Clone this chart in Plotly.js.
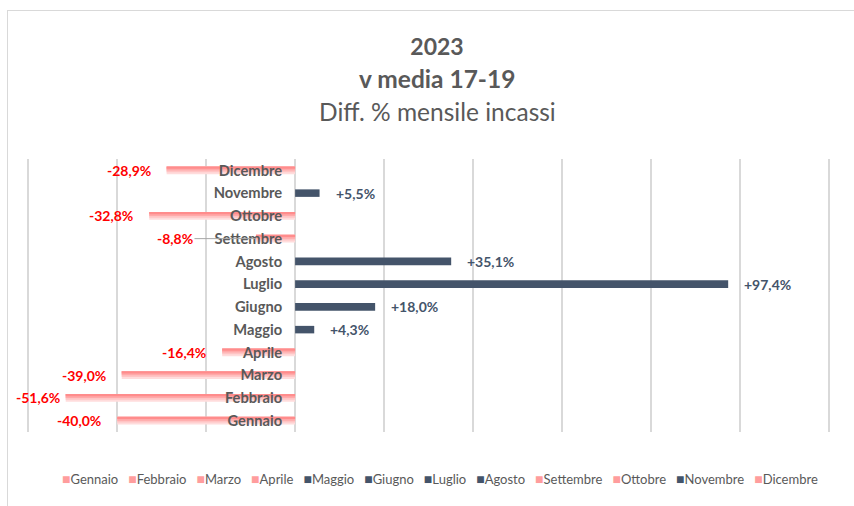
<!DOCTYPE html>
<html>
<head>
<meta charset="utf-8">
<script src="https://cdn.plot.ly/plotly-3.0.1.min.js"></script>
<style>
  html, body { margin: 0; padding: 0; background: #fff; }
  #chart { position: absolute; left: 0; top: 0; width: 854px; height: 506px; }
  #frame { position: absolute; left: 7px; top: 10px; width: 900px; height: 600px;
           border-left: 1px solid #d9d9d9; border-top: 1px solid #d9d9d9;
           pointer-events: none; z-index: 10; }
</style>
</head>
<body>
<div id="chart"></div>
<div id="frame"></div>
<script>
// ---- data ----
const months = ['Gennaio','Febbraio','Marzo','Aprile','Maggio','Giugno','Luglio','Agosto','Settembre','Ottobre','Novembre','Dicembre'];
const diffPct = [-40.0, -51.6, -39.0, -16.4, 4.3, 18.0, 97.4, 35.1, -8.8, -32.8, 5.5, -28.9];
const titleLines = ['2023', 'v media 17-19', 'Diff. % mensile incassi'];
const gridMin = -60, gridMax = 120, gridStep = 20;

// ---- styles ----
const POS_COLOR = '#44546a';
const NEG_LABEL = '#ff0000';
const GREY = '#595959';
const FONT = 'Lato, "Liberation Sans", sans-serif';
const BAR_W = 0.33;
const negLayers = [
  {w: 0.33, color: '#ffdcdc'},
  {w: 0.25, color: '#ffc4c4'},
  {w: 0.17, color: '#ffa9a9'},
  {w: 0.09, color: '#ff8c8c'}
];

const fmt = v => (v > 0 ? '+' : '') + v.toFixed(1).replace('.', ',') + '%';

const posM = [], posV = [], negM = [], negV = [];
months.forEach((m, i) => {
  if (diffPct[i] >= 0) { posM.push(m); posV.push(diffPct[i]); }
  else { negM.push(m); negV.push(diffPct[i]); }
});

const traces = [];
negLayers.forEach(L => {
  traces.push({
    type: 'bar', orientation: 'h', x: negV, y: negM,
    width: L.w, offset: BAR_W / 2 - L.w,
    marker: {color: L.color, line: {width: 0}},
    hoverinfo: 'skip', showlegend: false
  });
});
traces.push({
  type: 'bar', orientation: 'h', x: posV, y: posM,
  width: BAR_W, offset: -BAR_W / 2,
  marker: {color: POS_COLOR, line: {width: 0}},
  hoverinfo: 'skip', showlegend: false
});

// data labels
const labelShift = {Febbraio: -4};
const annotations = [];
months.forEach((m, i) => {
  const v = diffPct[i];
  if (m === 'Settembre') {
    annotations.push({
      x: v, y: m, xref: 'x', yref: 'y', text: '<b>' + fmt(v) + '</b>',
      showarrow: true, arrowhead: 0, arrowwidth: 1, arrowcolor: '#a6a6a6',
      ax: -81, ay: 0, standoff: 0,
      font: {family: FONT, size: 14, color: NEG_LABEL}
    });
    return;
  }
  const neg = v < 0;
  annotations.push({
    x: v, y: m, xref: 'x', yref: 'y', text: '<b>' + fmt(v) + '</b>',
    showarrow: false, xanchor: neg ? 'right' : 'left', yanchor: 'middle',
    xshift: neg ? (labelShift[m] !== undefined ? labelShift[m] : -14) : 14,
    font: {family: FONT, size: 14, color: neg ? NEG_LABEL : POS_COLOR}
  });
});

// title lines 2 and 3
annotations.push({
  xref: 'paper', yref: 'paper', x: (437 - 28) / 801, y: 1 + (159 - 79) / 273, yanchor: 'middle',
  text: '<b>' + titleLines[1] + '</b>', showarrow: false,
  font: {family: FONT, size: 24.5, color: GREY}
});
annotations.push({
  xref: 'paper', yref: 'paper', x: (437 - 28) / 801, y: 1 + (159 - 112) / 273, yanchor: 'middle',
  text: titleLines[2], showarrow: false,
  font: {family: FONT, size: 24.5, color: GREY}
});

// legend (drawn as a text row)
const legendText = months.map((m, i) => {
  const c = diffPct[i] >= 0 ? POS_COLOR : '#ff9d9d';
  return '<span style="color:' + c + ';font-size:14px">■</span>' + m;
}).join('\u00a0\u00a0\u00a0');
annotations.push({
  xref: 'paper', yref: 'paper', x: (440 - 28) / 801, y: -(478 - 432) / 273,
  yanchor: 'middle', xanchor: 'center', showarrow: false,
  text: legendText, font: {family: FONT, size: 13, color: GREY}
});

const tickVals = [];
for (let t = gridMin; t <= gridMax; t += gridStep) tickVals.push(t);
const pad = 0.3;

const layout = {
  width: 854, height: 506,
  margin: {l: 27, r: 24, t: 159, b: 74},
  paper_bgcolor: '#ffffff', plot_bgcolor: '#ffffff',
  barmode: 'overlay',
  showlegend: false,
  title: {
    text: '<b>' + titleLines[0] + '</b>',
    x: (437 / 854), xanchor: 'center', y: 1 - 47 / 506, yanchor: 'middle',
    font: {family: FONT, size: 23, color: GREY}
  },
  xaxis: {
    range: [gridMin - pad, gridMax + pad], tickvals: tickVals, showticklabels: false,
    showgrid: true, gridcolor: '#d9d9d9', gridwidth: 2,
    zeroline: true, zerolinecolor: '#d9d9d9', zerolinewidth: 2,
    showline: false, ticks: '', fixedrange: true
  },
  yaxis: {
    type: 'category', categoryorder: 'array', categoryarray: months,
    range: [-0.5, months.length - 0.5],
    anchor: 'free', position: (0 - (gridMin - pad)) / (gridMax - gridMin + 2 * pad),
    showgrid: false, zeroline: false, showline: false, ticks: '',
    ticklabelstandoff: 13,
    tickfont: {family: FONT, size: 14.7, color: GREY, weight: 'bold'},
    fixedrange: true
  },
  annotations: annotations
};

Plotly.newPlot('chart', traces, layout, {displayModeBar: false, staticPlot: true});
</script>
</body>
</html>
